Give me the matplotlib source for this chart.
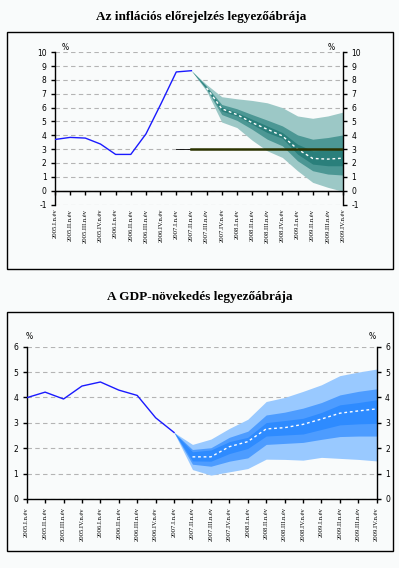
import numpy as np
import matplotlib
matplotlib.use("Agg")
import matplotlib.pyplot as plt
from matplotlib.patches import Rectangle

plt.rcParams["axes.unicode_minus"] = False

# category labels (quarters)
quarters = ["2005.I.n.év", "2005.II.n.év", "2005.III.n.év", "2005.IV.n.év",
            "2006.I.n.év", "2006.II.n.év", "2006.III.n.év", "2006.IV.n.év",
            "2007.I.n.év", "2007.II.n.év", "2007.III.n.év", "2007.IV.n.év",
            "2008.I.n.év", "2008.II.n.év", "2008.III.n.év", "2008.IV.n.év",
            "2009.I.n.év", "2009.II.n.év", "2009.III.n.év", "2009.IV.n.év"]

# --- inflation: history 2005.I - 2007.II, fan 2007.II - 2009.IV
infl_hist = [3.7, 3.85, 3.8, 3.37, 2.62, 2.62, 4.1, 6.3, 8.58, 8.67]
infl_center = [8.67, 7.43, 5.92, 5.5, 4.92, 4.44, 3.96, 3.0, 2.33, 2.28, 2.35]
infl_out_hi = [8.67, 7.67, 6.79, 6.64, 6.52, 6.35, 6.0, 5.4, 5.23, 5.4, 5.68]
infl_out_lo = [8.67, 7.2, 4.96, 4.56, 3.65, 2.88, 2.4, 1.44, 0.6, 0.24, -0.05]
infl_mid_hi = [8.67, 7.55, 6.23, 5.92, 5.5, 5.1, 4.68, 4.03, 3.72, 3.84, 4.03]
infl_mid_lo = [8.67, 7.31, 5.5, 5.08, 4.44, 3.72, 3.24, 2.16, 1.44, 1.2, 1.13]
infl_in_hi = [8.67, 7.48, 6.04, 5.64, 5.16, 4.68, 4.2, 3.36, 2.88, 2.93, 3.0]
infl_in_lo = [8.67, 7.38, 5.76, 5.4, 4.8, 4.2, 3.79, 2.64, 1.92, 1.8, 1.8]
infl_target = 3.0

# --- GDP: history 2005.I - 2007.I, fan 2007.I - 2009.IV
gdp_hist = [3.99, 4.21, 3.94, 4.45, 4.61, 4.29, 4.08, 3.2, 2.62]
gdp_center = [2.62, 1.66, 1.66, 2.06, 2.26, 2.76, 2.81, 2.94, 3.15, 3.38, 3.47, 3.55]
gdp_out_hi = [2.62, 2.15, 2.36, 2.78, 3.14, 3.84, 4.0, 4.24, 4.5, 4.86, 5.0, 5.12]
gdp_out_lo = [2.62, 1.16, 0.94, 1.07, 1.2, 1.57, 1.56, 1.53, 1.64, 1.6, 1.56, 1.5]
gdp_mid_hi = [2.62, 1.95, 2.02, 2.43, 2.67, 3.31, 3.42, 3.58, 3.8, 4.1, 4.24, 4.34]
gdp_mid_lo = [2.62, 1.37, 1.29, 1.49, 1.62, 2.15, 2.19, 2.23, 2.35, 2.46, 2.48, 2.48]
gdp_in_hi = [2.62, 1.86, 1.93, 2.26, 2.43, 3.01, 3.09, 3.18, 3.41, 3.71, 3.8, 3.91]
gdp_in_lo = [2.62, 1.5, 1.49, 1.79, 1.99, 2.48, 2.52, 2.56, 2.74, 2.92, 2.96, 2.98]

BG = "#f9fbfb"
W, H = 399, 568

fig = plt.figure(figsize=(W / 100, H / 100), dpi=100, facecolor=BG)


def px_ax(left, right, top, bottom):
    # pixel box -> figure fraction
    return fig.add_axes([left / W, 1 - bottom / H, (right - left) / W, (bottom - top) / H])


def frame(top, bottom):
    fig.patches.append(Rectangle((7 / W, 1 - bottom / H), 386 / W, (bottom - top) / H,
                                 transform=fig.transFigure, fill=False,
                                 edgecolor="black", linewidth=1.0))


def style_axes(ax, ymin, ymax):
    ax.set_facecolor(BG)
    x = np.arange(len(quarters))
    ax.set_xlim(0, len(quarters) - 1)
    ax.set_ylim(ymin, ymax)
    ax.set_yticks(range(ymin, ymax + 1))
    ax.set_xticks(x)
    ax.set_xticklabels(quarters, rotation=90, fontsize=4.8, family="Liberation Serif")
    ax.spines["top"].set_visible(False)
    for s in ("left", "right"):
        ax.spines[s].set_linewidth(1.0)
    ax.tick_params(axis="y", left=True, right=True, labelleft=True, labelright=True,
                   direction="out", length=3, width=1, labelsize=5.5, pad=3)
    ax.yaxis.grid(True, linestyle=(0, (4, 3)), color="#b4b4b4", linewidth=0.8)
    ax.set_axisbelow(True)


def fan(ax, x, lo_hi, colors):
    for (lo, hi), c in zip(lo_hi, colors):
        ax.fill_between(x, lo, hi, color=c, linewidth=0, zorder=2)


# ================= top: inflation =================
frame(32, 269)
fig.text(201 / W, 1 - 17 / H, "Az inflációs előrejelzés legyezőábrája", ha="center",
         va="center", fontsize=9.5, fontweight="bold", family="Liberation Serif")
ax1 = px_ax(55, 343, 52.3, 204.5)
style_axes(ax1, -1, 10)
ax1.spines["bottom"].set_visible(False)
ax1.tick_params(axis="x", length=0, pad=3)
# category axis crosses at 0, labels stay low
sec1 = ax1.secondary_xaxis(1 / 11)
sec1.set_xticks(np.arange(len(quarters)))
sec1.set_xticklabels([])
sec1.tick_params(axis="x", direction="out", length=3, width=1)
ax1.axhline(0, color="black", linewidth=1.0, zorder=5)

xi = np.arange(len(quarters))
n_h = len(infl_hist)
xf = xi[n_h - 1:]
fan(ax1, xf, [(infl_out_lo, infl_out_hi), (infl_mid_lo, infl_mid_hi), (infl_in_lo, infl_in_hi)],
    ["#9cc8c6", "#4c9794", "#2a7f7b"])
ax1.plot(xf[1:], infl_center[1:], color="white", linewidth=1.0, dashes=(2, 2), zorder=3)
ax1.plot(xi[:n_h], infl_hist, color="#1a1aff", linewidth=1.0, zorder=4)
ax1.plot(xi[n_h - 2:n_h], [infl_target] * 2, color="black", linewidth=0.6, zorder=4)
ax1.plot(xf, [infl_target] * len(xf), color="#2b3300", linewidth=1.8, zorder=4)
fig.text(65 / W, 1 - 47 / H, "%", fontsize=5.5, ha="center", va="center")
fig.text(331 / W, 1 - 47 / H, "%", fontsize=5.5, ha="center", va="center")

# ================= bottom: GDP =================
frame(312, 551)
fig.text(200 / W, 1 - 297 / H, "A GDP-növekedés legyezőábrája", ha="center",
         va="center", fontsize=9.5, fontweight="bold", family="Liberation Serif")
ax2 = px_ax(26.7, 376.7, 346.7, 499)
style_axes(ax2, 0, 6)
ax2.spines["bottom"].set_linewidth(1.0)
ax2.tick_params(axis="x", direction="out", length=3, width=1, pad=3)

n_g = len(gdp_hist)
xg = xi[n_g - 1:]
fan(ax2, xg, [(gdp_out_lo, gdp_out_hi), (gdp_mid_lo, gdp_mid_hi), (gdp_in_lo, gdp_in_hi)],
    ["#99c9ff", "#4d9cff", "#2e8bff"])
ax2.plot(xg[1:], gdp_center[1:], color="white", linewidth=1.0, dashes=(2, 2), zorder=3)
ax2.plot(xi[:n_g], gdp_hist, color="#1a1aff", linewidth=1.0, zorder=4)
fig.text(29.3 / W, 1 - 336.7 / H, "%", fontsize=5.5, ha="center", va="center")
fig.text(372.3 / W, 1 - 336.7 / H, "%", fontsize=5.5, ha="center", va="center")

fig.savefig("out.png", dpi=100, facecolor=BG)
